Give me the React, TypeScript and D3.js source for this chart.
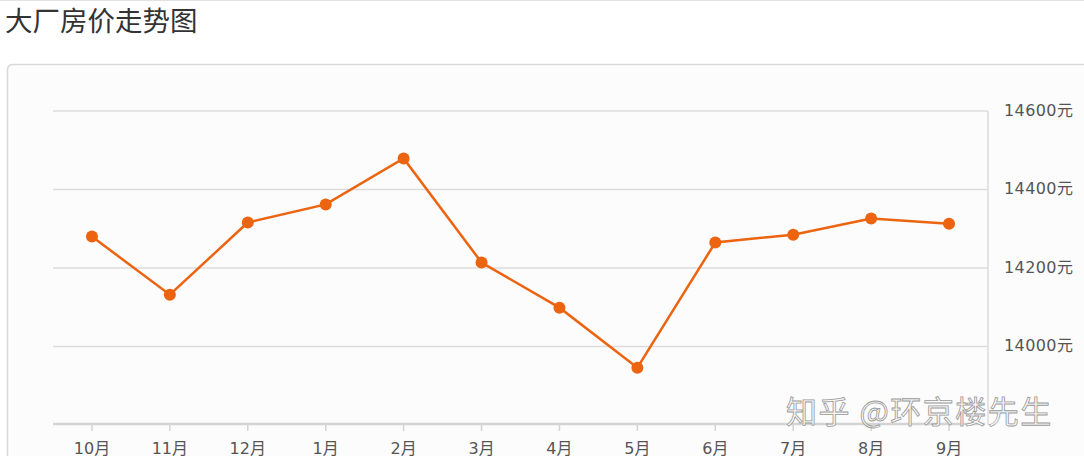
import React, { useEffect, useRef } from 'react';
import * as d3 from 'd3';

const months = ['10月', '11月', '12月', '1月', '2月', '3月', '4月', '5月', '6月', '7月', '8月', '9月'];
const prices = [14280, 14132, 14316, 14362, 14479, 14214, 14099, 13946, 14265, 14285, 14326, 14313];
const yTicks = [14000, 14200, 14400, 14600];

const width = 1084;
const height = 456;
const left = 53;
const right = 988;
const top = 111;
const bottom = 425;
const orange = '#ec6410';
const font = '"Noto Sans CJK SC", "Noto Sans", sans-serif';
const labelFont = '"DejaVu Sans", "Noto Sans CJK SC", sans-serif';

function App() {
  const ref = useRef<SVGSVGElement>(null);

  useEffect(() => {
    if (!ref.current) return;
    const svg = d3.select(ref.current);
    svg.selectAll('*').remove();

    // page top rule + title
    svg.append('line')
      .attr('x1', 0).attr('x2', width).attr('y1', 0.5).attr('y2', 0.5)
      .style('stroke', '#e2e2e2');
    svg.append('text')
      .attr('x', 5).attr('y', 31)
      .style('font-family', font)
      .style('font-size', '27.5px')
      .style('fill', '#333')
      .text('大厂房价走势图');

    // card
    svg.append('rect')
      .attr('x', 7.5).attr('y', 64.5)
      .attr('width', width + 20).attr('height', height)
      .attr('rx', 5)
      .style('fill', '#fcfcfd')
      .style('stroke', '#d8d8d8')
      .style('stroke-width', 1.5);

    const x = d3.scaleBand<string>().domain(months).range([left, right]);
    const y = d3.scaleLinear().domain([13800, 14600]).range([bottom, top]);
    const cx = (m: string) => (x(m) ?? 0) + x.bandwidth() / 2;

    // gridlines
    svg.append('g').selectAll('line')
      .data(yTicks)
      .enter()
      .append('line')
      .attr('x1', left).attr('x2', right)
      .attr('y1', d => y(d)).attr('y2', d => y(d))
      .style('stroke', '#dcdcdc')
      .style('stroke-width', 1.5);

    // right axis line
    svg.append('line')
      .attr('x1', right).attr('x2', right)
      .attr('y1', y(14600)).attr('y2', bottom)
      .style('stroke', '#dcdcdc')
      .style('stroke-width', 1.5);

    svg.append('g').selectAll('text')
      .data(yTicks)
      .enter()
      .append('text')
      .attr('x', 1004)
      .attr('y', d => y(d))
      .attr('dominant-baseline', 'middle')
      .style('font-family', labelFont)
      .style('font-size', '16px')
      .style('letter-spacing', '0.4px')
      .style('fill', '#555')
      .text(d => `${d}元`);

    // x axis
    svg.append('line')
      .attr('x1', left).attr('x2', right - 3)
      .attr('y1', bottom - 1).attr('y2', bottom - 1)
      .style('stroke', '#d4d4d4')
      .style('stroke-width', 2.5);

    const xt = svg.append('g').selectAll('g')
      .data(months)
      .enter()
      .append('g')
      .attr('transform', d => `translate(${cx(d)},${bottom})`);
    xt.append('line')
      .attr('y1', 0).attr('y2', 6)
      .style('stroke', '#d4d4d4')
      .style('stroke-width', 1.5);
    xt.append('text')
      .attr('y', 29)
      .attr('text-anchor', 'middle')
      .style('font-family', labelFont)
      .style('font-size', '16px')
      .style('fill', '#555')
      .text(d => d);

    // line + points
    const line = d3.line<number>()
      .x((d, i) => cx(months[i]))
      .y(d => y(d));
    svg.append('path')
      .datum(prices)
      .attr('d', line)
      .style('fill', 'none')
      .style('stroke', orange)
      .style('stroke-width', 2.5);
    svg.append('g').selectAll('circle')
      .data(prices)
      .enter()
      .append('circle')
      .attr('cx', (d, i) => cx(months[i]))
      .attr('cy', d => y(d))
      .attr('r', 6)
      .style('fill', orange);

    // watermark
    svg.append('text')
      .attr('x', 786).attr('y', 423)
      .style('font-family', font)
      .style('font-size', '31px')
      .style('letter-spacing', '1.5px')
      .style('fill', '#f6f6f6')
      .style('stroke', '#9a9a9a')
      .style('stroke-width', 0.8)
      .text('知乎 @环京楼先生');
  }, []);

  return (
    <svg ref={ref} width={width} height={height} style={{ position: 'absolute', left: 0, top: 0, background: '#fff' }}></svg>
  );
}

export default App;
